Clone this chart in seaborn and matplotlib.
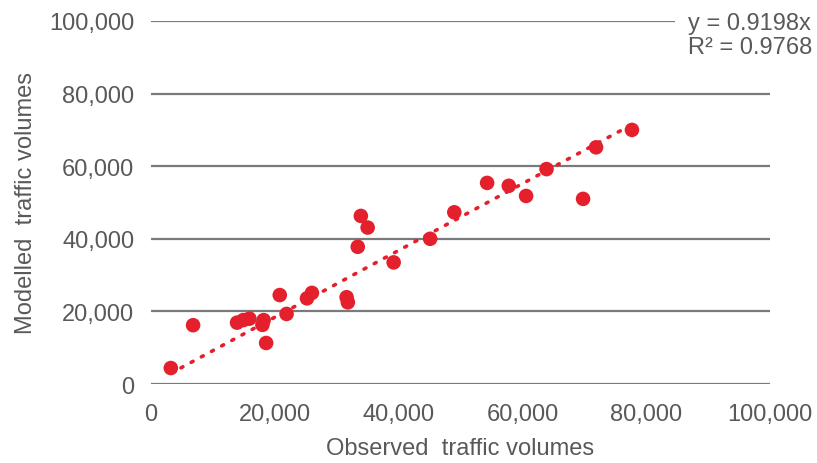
import numpy as np
import pandas as pd
import matplotlib
matplotlib.use("Agg")
import matplotlib.pyplot as plt
import seaborn as sns

# observed vs modelled traffic volumes
observed = [3200, 6800, 13900, 14900, 15900, 18200, 18000, 18600, 20800, 21900,
            25200, 26000, 31600, 31800, 33900, 33400, 35000, 39200, 45100, 49000,
            54300, 57800, 60600, 63900, 69800, 71900, 77700]
modelled = [4400, 16200, 16900, 17600, 18000, 17600, 16300, 11300, 24500, 19300,
            23600, 25100, 23900, 22500, 46300, 37800, 43100, 33500, 40000, 47300,
            55400, 54600, 51800, 59200, 51000, 65200, 70000]

slope = 0.9198
r2 = 0.9768
ticks = [0, 20000, 40000, 60000, 80000, 100000]
tick_labels = ["0", "20,000", "40,000", "60,000", "80,000", "100,000"]

df = pd.DataFrame({"observed": observed, "modelled": modelled})

sns.set_theme(style="white")
plt.rcParams["font.family"] = ["Liberation Sans", "DejaVu Sans"]

red = "#e3202b"
grey_text = "#595959"

fig = plt.figure(figsize=(8.17, 4.64), dpi=100)
ax = fig.add_axes([151 / 817, 1 - 385 / 464, 619 / 817, 363 / 464])

for t in ticks:
    ax.axhline(t, color="#7a7a7a", lw=1.6, zorder=1)

# trendline through origin over the data range
xs = np.array([min(observed), max(observed)])
ax.plot(xs, slope * xs, color=red, lw=2.6, ls=(0, (0.6, 2.6)),
        dash_capstyle="round", zorder=2)

sns.scatterplot(data=df, x="observed", y="modelled", color=red, s=110,
                edgecolor="none", ax=ax, zorder=3)

ax.set_xlim(0, 100000)
ax.set_ylim(0, 100000)
ax.set_xticks(ticks)
ax.set_xticklabels(tick_labels)
ax.set_yticks(ticks)
ax.set_yticklabels(tick_labels)
ax.tick_params(axis="both", length=0, labelsize=17, labelcolor=grey_text)
ax.tick_params(axis="x", pad=14)
ax.tick_params(axis="y", pad=12)
for s in ax.spines.values():
    s.set_visible(False)
ax.grid(False)

ax.set_xlabel("Observed  traffic volumes", fontsize=17, color=grey_text, labelpad=8)
ax.set_ylabel("Modelled  traffic volumes", fontsize=17, color=grey_text, labelpad=9)

fig.text(688 / 817, 1 - 36 / 464, f"y = {slope}x\nR\u00b2 = {r2}", fontsize=17,
         color=grey_text, ha="left", va="center", linespacing=1.15,
         bbox=dict(facecolor="white", edgecolor="none", pad=9), zorder=5)

fig.savefig("out.png", dpi=100)
